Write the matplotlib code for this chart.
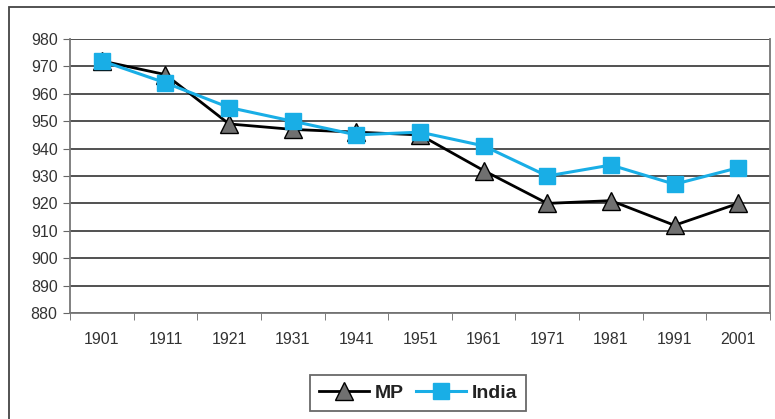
import matplotlib
matplotlib.use("Agg")
import matplotlib.pyplot as plt
from matplotlib.patches import Rectangle

years = ["1901", "1911", "1921", "1931", "1941", "1951", "1961", "1971", "1981", "1991", "2001"]
mp = [972, 967, 949, 947, 946, 945, 932, 920, 921, 912, 920]
india = [972, 964, 955, 950, 945, 946, 941, 930, 934, 927, 933]
yticks = list(range(880, 981, 10))

plt.rcParams['font.family'] = ['Liberation Sans', 'DejaVu Sans']
fig = plt.figure(figsize=(7.75, 4.19), dpi=100)
fig.patches.append(Rectangle((9/775, -0.05), 1.0, 1.05 - 7/419, transform=fig.transFigure,
                             fill=False, edgecolor='#444444', linewidth=1.3))
ax = fig.add_axes([70/775, 1 - 313/419, (770-70)/775, (313-39)/419])
x = list(range(len(years)))
ax.plot(x, mp, color='black', linewidth=2, marker='^', markersize=13,
        markerfacecolor='#707070', markeredgecolor='black', markeredgewidth=1, label='MP', zorder=3)
ax.plot(x, india, color='#19aee6', linewidth=2.2, marker='s', markersize=12,
        markerfacecolor='#19aee6', markeredgecolor='#19aee6', label='India', zorder=4)
ax.set_ylim(880, 980)
ax.set_xlim(-0.5, len(years) - 0.5)
ax.set_yticks(yticks)
ax.set_yticklabels([str(v) for v in yticks])
ax.set_xticks(x)
ax.set_xticklabels(years)
ax.set_xticks([i - 0.5 for i in range(len(years) + 1)], minor=True)
ax.tick_params(axis='x', which='major', length=0, pad=14, labelsize=11.5, labelcolor='#333333')
ax.tick_params(axis='x', which='minor', length=5, color='#666666')
ax.tick_params(axis='y', length=5, color='#666666', labelsize=11.5, labelcolor='#333333', pad=4)
ax.grid(axis='y', color='#222222', linewidth=1.1)
ax.spines['top'].set_visible(False)
for s in ['left', 'bottom', 'right']:
    ax.spines[s].set_color('#777777')
    ax.spines[s].set_linewidth(1.3)
ax.set_axisbelow(True)
leg = ax.legend(loc='center', bbox_to_anchor=(418/775, 1 - 393/419), bbox_transform=fig.transFigure,
                ncol=2, frameon=True, fancybox=False, edgecolor='#444444',
                prop={'weight': 'bold', 'size': 14}, handlelength=2.6, columnspacing=0.6,
                handletextpad=0.3, borderpad=0.45)
leg.get_frame().set_linewidth(1.3)
for t in leg.get_texts():
    t.set_color('#222222')
fig.savefig("out.png", dpi=100)
